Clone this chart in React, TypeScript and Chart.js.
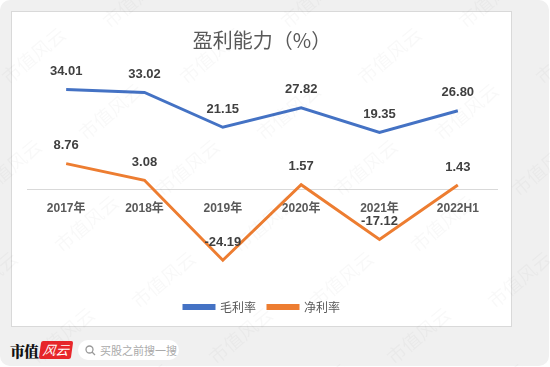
import React, { useEffect, useRef } from "react";
import { Chart, registerables } from "chart.js";

Chart.register(...registerables);

const categories = ["2017年", "2018年", "2019年", "2020年", "2021年", "2022H1"];
const grossMargin = [34.01, 33.02, 21.15, 27.82, 19.35, 26.8];
const netMargin = [8.76, 3.08, -24.19, 1.57, -17.12, 1.43];
const seriesNames = ["毛利率", "净利率"];
const titleText = "盈利能力（%）";

const FONT = "'Liberation Sans', 'Noto Sans CJK SC', sans-serif";
const CJK = "'Noto Sans CJK SC', 'Liberation Sans', sans-serif";

const valueLabelPlugin = {
  id: "valueLabels",
  afterDatasetsDraw(chart: any) {
    const ctx = chart.ctx;
    ctx.save();
    ctx.font = `bold 13px ${FONT}`;
    ctx.fillStyle = "#404040";
    ctx.textAlign = "center";
    ctx.textBaseline = "middle";
    chart.data.datasets.forEach((ds: any, i: number) => {
      const meta = chart.getDatasetMeta(i);
      meta.data.forEach((pt: any, j: number) => {
        const v = ds.data[j] as number;
        ctx.fillText(v.toFixed(2), pt.x, pt.y - 18);
      });
    });
    ctx.restore();
  },
};

function Watermarks() {
  const items: React.ReactNode[] = [];
  let k = 0;
  for (let r = -1; r < 7; r++) {
    const y = 55 + r * 56;
    const shift = (((r * 77) % 178) + 178) % 178;
    for (let c = -1; c < 4; c++) {
      const x = 33 + shift + c * 178;
      items.push(
        <span
          key={k++}
          style={{
            position: "absolute",
            left: x - 40,
            top: y - 12,
            width: 80,
            textAlign: "center",
            fontFamily: CJK,
            fontSize: 19,
            color: "rgba(0,0,0,0.028)",
            transform: "rotate(-40deg)",
            whiteSpace: "nowrap",
            lineHeight: "24px",
          }}
        >
          市值风云
        </span>
      );
    }
  }
  return (
    <div style={{ position: "absolute", left: 0, top: 0, width: 550, height: 367, overflow: "hidden", pointerEvents: "none" }}>
      {items}
    </div>
  );
}

export default function App() {
  const canvasRef = useRef<HTMLCanvasElement | null>(null);

  useEffect(() => {
    document.body.style.margin = "0";
    const canvas = canvasRef.current;
    if (!canvas) return;
    const chart = new Chart(canvas, {
      type: "line",
      data: {
        labels: categories,
        datasets: [
          {
            label: seriesNames[0],
            data: grossMargin,
            borderColor: "#4472C4",
            backgroundColor: "#4472C4",
            borderWidth: 3,
            pointRadius: 0,
            tension: 0,
            clip: false as any,
          },
          {
            label: seriesNames[1],
            data: netMargin,
            borderColor: "#ED7D31",
            backgroundColor: "#ED7D31",
            borderWidth: 3,
            pointRadius: 0,
            tension: 0,
            clip: false as any,
          },
        ],
      },
      options: {
        animation: false,
        responsive: false,
        maintainAspectRatio: false,
        layout: { padding: { left: 15, right: 14, top: 0, bottom: 3 } },
        plugins: {
          title: {
            display: true,
            text: titleText,
            color: "#595959",
            font: { family: CJK, size: 20, weight: "normal" },
            padding: { top: 16, bottom: 20 },
          },
          legend: {
            display: true,
            position: "bottom",
            labels: {
              color: "#595959",
              font: { family: CJK, size: 12 },
              boxWidth: 30,
              boxHeight: 3,
              padding: 12,
            },
          },
          tooltip: { enabled: false },
        },
        scales: {
          x: {
            position: { y: 0 } as any,
            offset: true,
            grid: { display: false, drawTicks: false },
            border: { display: true, color: "#d9d9d9", width: 1 },
            ticks: {
              color: "#595959",
              font: { family: FONT, size: 12, weight: "bold" },
              padding: 12,
              maxRotation: 0,
              autoSkip: false,
            },
          },
          y: {
            display: false,
            min: -34,
            max: 40,
          },
        },
      },
      plugins: [valueLabelPlugin],
    });
    return () => chart.destroy();
  }, []);

  return (
    <div style={{ position: "relative", width: 550, height: 367, background: "#ffffff", overflow: "hidden" }}>
      <div style={{ position: "absolute", left: 0, top: 0, width: 549, height: 366, background: "#f0f0f0", borderRadius: 10 }} />
      <div
        style={{
          position: "absolute",
          left: 11,
          top: 11,
          width: 501,
          height: 316,
          background: "#ffffff",
          border: "1px solid #d9d9d9",
          boxSizing: "border-box",
        }}
      >
        <canvas ref={canvasRef} width={499} height={314} style={{ display: "block", width: 499, height: 314 }} />
      </div>
      {/* footer */}
      <div style={{ position: "absolute", left: 10, top: 340, height: 20, display: "flex", alignItems: "center" }}>
        <span style={{ fontFamily: "'Noto Serif CJK SC', 'Noto Sans CJK SC', serif", fontWeight: 900, fontSize: 15, color: "#111", letterSpacing: -1 }}>
          市值
        </span>
        <span
          style={{
            marginLeft: 2,
            background: "#e8262b",
            color: "#fff",
            fontFamily: CJK,
            fontStyle: "italic",
            fontSize: 13,
            lineHeight: "18px",
            height: 18,
            padding: "0 3px",
            borderRadius: 2,
            transform: "skewX(-8deg)",
          }}
        >
          风云
        </span>
        <div
          style={{
            marginLeft: 6,
            background: "#ffffff",
            borderRadius: 10,
            height: 20,
            width: 101,
            display: "flex",
            alignItems: "center",
            paddingLeft: 7,
            boxSizing: "border-box",
          }}
        >
          <svg width="11" height="11" viewBox="0 0 11 11">
            <circle cx="4.5" cy="4.5" r="3.5" stroke="#999" strokeWidth="1.3" fill="none" />
            <line x1="7" y1="7" x2="10" y2="10" stroke="#999" strokeWidth="1.3" />
          </svg>
          <span style={{ marginLeft: 4, fontFamily: CJK, fontSize: 11, color: "#aaa", whiteSpace: "nowrap" }}>买股之前搜一搜</span>
        </div>
      </div>
      <Watermarks />
    </div>
  );
}
